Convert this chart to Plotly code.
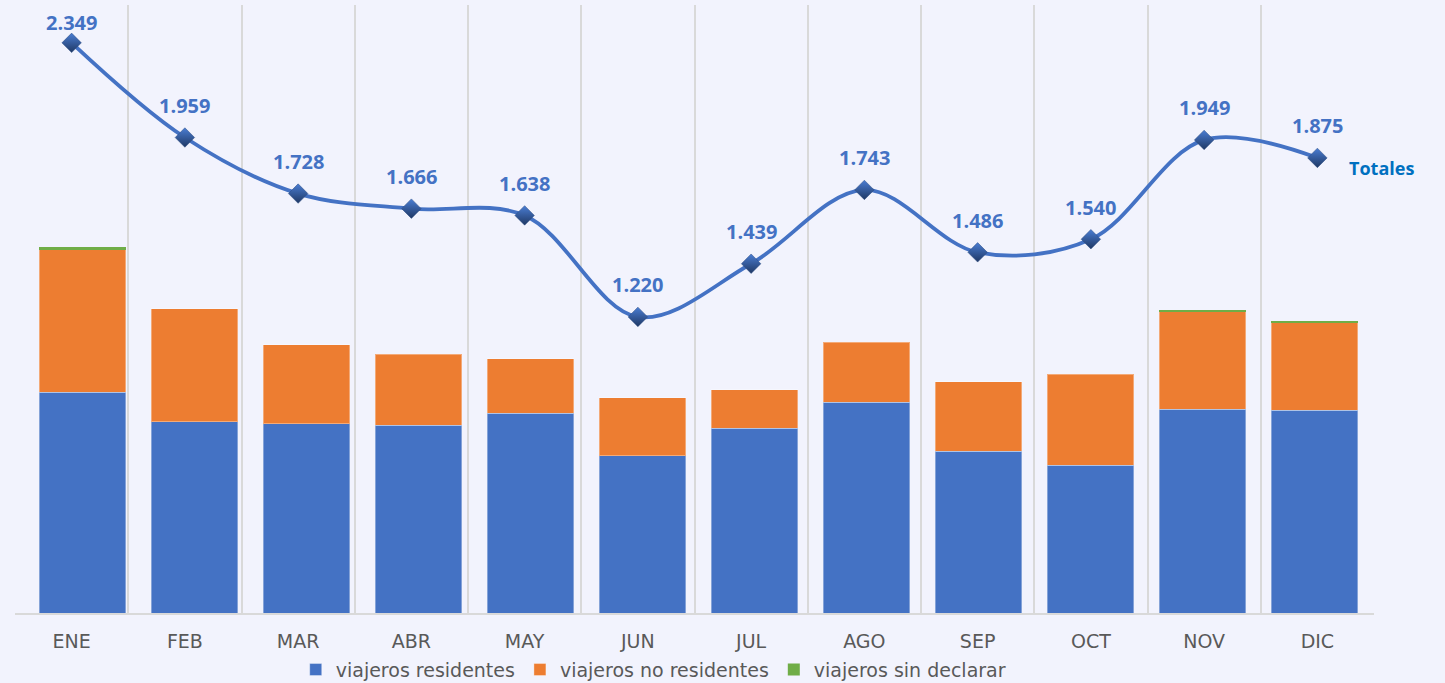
import plotly.graph_objects as go

meses = ["ENE", "FEB", "MAR", "ABR", "MAY", "JUN", "JUL", "AGO", "SEP", "OCT", "NOV", "DIC"]
residentes = [910, 787, 779, 774, 823, 647, 762, 869, 666, 608, 840, 836]
no_residentes = [587, 466, 327, 292, 224, 239, 158, 246, 286, 375, 402, 359]
sin_declarar = [9, 0, 0, 0, 0, 0, 0, 0, 0, 0, 8, 8]
totales = [2349, 1959, 1728, 1666, 1638, 1220, 1439, 1743, 1486, 1540, 1949, 1875]

BG = "#F2F3FD"
fig = go.Figure()

fig.add_trace(go.Bar(x=meses, y=residentes, name="viajeros residentes", xaxis="x2",
                     marker=dict(color="#4472C4", line=dict(color="rgba(255,255,255,0.35)", width=1))))
fig.add_trace(go.Bar(x=meses, y=no_residentes, name="viajeros no residentes", xaxis="x2",
                     marker=dict(color="#ED7D31", line=dict(color="rgba(255,255,255,0.35)", width=1))))
fig.add_trace(go.Bar(x=meses, y=sin_declarar, name="viajeros sin declarar", xaxis="x2",
                     marker=dict(color="#70AD47", line=dict(width=0))))

fig.add_trace(go.Scatter(
    x=meses, y=totales, name="Totales", mode="lines+markers",
    line=dict(color="#4472C4", width=3.8, shape="spline", smoothing=1.0),
    marker=dict(symbol="diamond", size=15, color="#4A7DD3",
                gradient=dict(type="vertical", color="#1F3864"),
                line=dict(color="#2A4A80", width=0.5)),
    showlegend=False, cliponaxis=False,
))

for i, (m, v) in enumerate(zip(meses, totales)):
    fig.add_annotation(x=m, y=v, text=f"{v:,}".replace(",", "."), showarrow=False,
                       yshift=20 if i == 0 else 32,
                       font=dict(family="Open Sans", size=20, color="#4472C4", weight="bold"))

fig.add_annotation(x=meses[-1], y=totales[-1], text="Totales", showarrow=False,
                   xshift=64, yshift=-10,
                   font=dict(family="Open Sans", size=18, color="#0070C0", weight="bold"))

fig.update_layout(
    width=1445, height=683,
    margin=dict(l=15, r=71, t=5, b=70, autoexpand=False),
    paper_bgcolor=BG, plot_bgcolor=BG,
    barmode="stack", bargap=0.228,
    showlegend=True,
    legend=dict(orientation="h", x=0.47, xanchor="center", y=-0.062, yanchor="top",
                traceorder="normal",
                font=dict(family="DejaVu Sans", size=19, color="#595959"),
                bgcolor="rgba(0,0,0,0)", itemwidth=30, tracegroupgap=0),
    xaxis=dict(type="category", range=[-0.5, 11.5], tickson="boundaries", showgrid=True,
               gridcolor="#D9D9D9", gridwidth=1.5, showline=True, linecolor="#D9D9D9", linewidth=2,
               ticks="", ticklabelstandoff=10, automargin=False,
               tickfont=dict(family="DejaVu Sans", size=19, color="#595959")),
    xaxis2=dict(type="category", overlaying="x", range=[-0.601, 11.533], visible=False,
                showgrid=False, automargin=False),
    yaxis=dict(range=[0, 2505], visible=False, showgrid=False, zeroline=False, automargin=False),
)

fig.write_html("out.html", config={"displayModeBar": False},
               post_script="document.body.style.margin='0';document.body.style.overflow='hidden';")
